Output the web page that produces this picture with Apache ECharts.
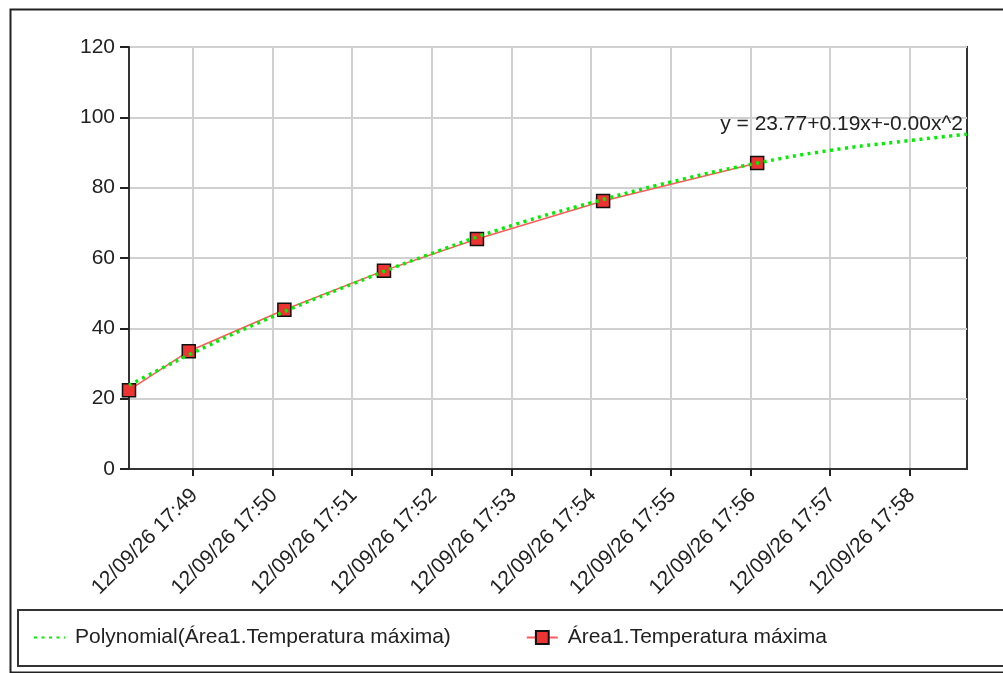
<!DOCTYPE html>
<html><head><meta charset="utf-8">
<script src="https://cdn.jsdelivr.net/npm/echarts@6/dist/echarts.min.js"></script>
<style>html,body{margin:0;padding:0;background:#fff}#c{width:1003px;height:673px}</style>
</head><body><div id="c"></div>
<script>
// ---- data ----
const seriesName = 'Área1.Temperatura máxima';
const trendName = 'Polynomial(Área1.Temperatura máxima)';
const equationText = 'y = 23.77+0.19x+-0.00x^2';

const dataTimes = ['17:48:12', '17:48:57', '17:50:09', '17:51:24', '17:52:34', '17:54:09', '17:56:05'];
const dataValues = [22.4, 33.5, 45.3, 56.4, 65.4, 76.2, 87.0];

const trendTimes = ['17:48:12', '17:49:00', '17:50:00', '17:51:00', '17:52:00', '17:53:00', '17:54:00', '17:55:00', '17:56:00', '17:57:00', '17:58:00', '17:58:43'];
const trendValues = [23.8, 33.0, 43.3, 52.6, 61.3, 69.2, 75.7, 81.6, 86.6, 90.6, 93.4, 95.2];

const axisStart = '17:48:12';
const axisEnd = '17:58:43';
const tickTimes = ['17:49', '17:50', '17:51', '17:52', '17:53', '17:54', '17:55', '17:56', '17:57', '17:58'];
const tickLabels = ['12/09/26 17:49', '12/09/26 17:50', '12/09/26 17:51', '12/09/26 17:52', '12/09/26 17:53',
                    '12/09/26 17:54', '12/09/26 17:55', '12/09/26 17:56', '12/09/26 17:57', '12/09/26 17:58'];
const yMin = 0, yMax = 120, yStep = 20;

// ---- helpers ----
function toSec(t) { const p = t.split(':').map(Number); return p[0] * 3600 + p[1] * 60 + (p[2] || 0); }
const tickSecs = tickTimes.map(toSec);
const FONT = '"Liberation Sans", Arial, sans-serif';
const TXT = '#222222';

const dataSeries = dataTimes.map((t, i) => [toSec(t), dataValues[i]]);
const trendSeries = trendTimes.map((t, i) => {
  const v = [toSec(t), trendValues[i]];
  if (i === trendTimes.length - 1) {
    return {
      value: v, symbol: 'circle', symbolSize: 1,
      itemStyle: { color: 'rgba(0,0,0,0)' },
      label: {
        show: true, position: 'top', align: 'right', distance: 0, offset: [-4, 1],
        formatter: equationText, fontSize: 21, fontFamily: FONT, color: TXT
      }
    };
  }
  return v;
});

const chart = echarts.init(document.getElementById('c'), null, { renderer: 'canvas' });
chart.setOption({
  animation: false,
  backgroundColor: '#ffffff',
  textStyle: { fontFamily: FONT },
  graphic: [{
    type: 'rect', left: 8, top: 7, z: 100, silent: true,
    shape: { width: 1010, height: 663 },
    style: { fill: 'none', stroke: '#222', lineWidth: 2 }
  }],
  grid: {
    left: 129, top: 47, right: 36, bottom: 204,
    show: true, borderColor: '#333', borderWidth: 2, backgroundColor: 'transparent',
    containLabel: false, outerBoundsMode: 'none'
  },
  legend: {
    left: 18, top: 610, width: 1150, orient: 'horizontal',
    padding: [17, 200, 18, 15],
    borderColor: '#333', borderWidth: 2,
    itemGap: 75, itemWidth: 31, itemHeight: 16,
    textStyle: { fontSize: 21, color: TXT, fontFamily: FONT, padding: [0, 0, 0, 5] },
    data: [
      { name: trendName, itemStyle: { color: 'rgba(0,0,0,0)', borderWidth: 0 } },
      { name: seriesName }
    ]
  },
  xAxis: {
    type: 'value',
    min: toSec(axisStart), max: toSec(axisEnd),
    axisLine: { show: true, lineStyle: { color: '#333', width: 2 } },
    axisTick: { show: true, length: 7, lineStyle: { color: '#222', width: 2 }, customValues: tickSecs },
    axisLabel: {
      customValues: tickSecs, rotate: 45, margin: 10,
      align: 'right', verticalAlign: 'top', padding: [0, 8, 0, 0],
      fontSize: 21, color: TXT, fontFamily: FONT,
      formatter: function (v) { const i = tickSecs.indexOf(Math.round(v)); return i >= 0 ? tickLabels[i] : ''; }
    },
    splitLine: { show: true, lineStyle: { color: '#d0d0d0', width: 2 } }
  },
  yAxis: {
    type: 'value', min: yMin, max: yMax, interval: yStep,
    axisLine: { show: true, lineStyle: { color: '#333', width: 2 } },
    axisTick: { show: true, length: 9, lineStyle: { color: '#222', width: 2 } },
    axisLabel: { margin: 14, fontSize: 21, color: TXT, fontFamily: FONT },
    splitLine: { show: true, lineStyle: { color: '#d0d0d0', width: 2 } }
  },
  series: [{
    name: seriesName, type: 'line', data: dataSeries, z: 2,
    symbol: 'rect', symbolSize: 13,
    itemStyle: { color: '#ee3333', borderColor: '#111', borderWidth: 1.5 },
    lineStyle: { color: '#ff5a5a', width: 1.5 },
    emphasis: { disabled: true }
  }, {
    name: trendName, type: 'line', data: trendSeries, z: 3, clip: false,
    smooth: true, symbol: 'none',
    itemStyle: { color: '#00ee00' },
    lineStyle: { color: '#00ee00', width: 3.5, type: [3, 4.5] },
    emphasis: { disabled: true }
  }]
});
</script></body></html>
